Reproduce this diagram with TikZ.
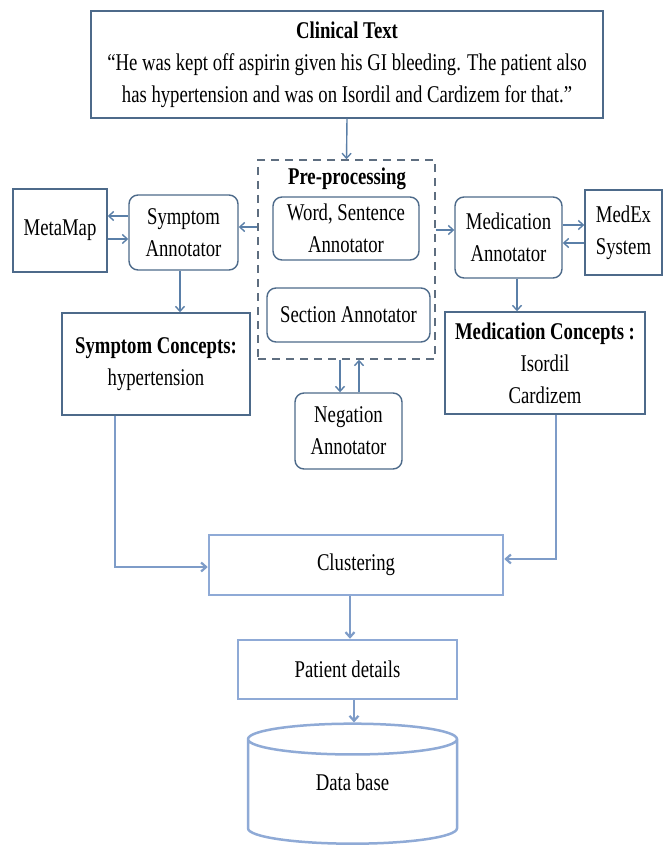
\documentclass[tikz,border=0pt]{standalone}
\usepackage{fontspec}
\setmainfont{Liberation Serif}[FakeStretch=0.78]
\usetikzlibrary{arrows.meta,shapes.geometric}
\definecolor{boxline}{HTML}{4D6A8A}
\definecolor{arrline}{HTML}{5A7FA8}
\definecolor{dashline}{HTML}{5E6E80}
\definecolor{lightline}{HTML}{8FAAD6}
\definecolor{midline}{HTML}{7E9CC8}
\begin{document}
\begin{tikzpicture}[x=1pt,y=-1pt,
  font=\fontsize{24}{32}\selectfont,
  box/.style={draw=boxline,line width=1.4pt,fill=white,inner sep=0pt,align=center},
  rbox/.style={box,rounded corners=9pt},
  lbox/.style={draw=lightline,line width=2.5pt,fill=white,inner sep=0pt,align=center},
  arr/.style={draw=arrline,line width=1.4pt,-{Straight Barb[length=5pt,width=9pt]}},
  larr/.style={draw=midline,line width=2.2pt,-{Straight Barb[length=5pt,width=9pt]}}]
\useasboundingbox (0,0) rectangle (667,853);
% input text
\node[box,minimum width=512,minimum height=107] (clin) at (347,64.5)
  {\textbf{Clinical Text}\\“He was kept off aspirin given his GI bleeding. The patient also\\has hypertension and was on Isordil and Cardizem for that.”};
% pre-processing group
\node[draw=dashline,line width=1.4pt,dash pattern=on 8pt off 6pt,minimum width=177,minimum height=199] (pre) at (346.5,259.5) {};
\node (pretitle) at (347,179) {\textbf{Pre-processing}};
\node[rbox,minimum width=146,minimum height=63] (word) at (346,228.5) {Word, Sentence\\Annotator};
\node[rbox,minimum width=163,minimum height=54] (sect) at (348.5,315) {Section Annotator};
\node[rbox,minimum width=107,minimum height=76] (neg) at (348.5,431) {Negation\\Annotator};
% symptom side
\node[box,minimum width=94,minimum height=83] (meta) at (60,230.5) {MetaMap};
\node[rbox,minimum width=109,minimum height=75] (symann) at (183.5,232.5) {Symptom\\Annotator};
\node[box,minimum width=188,minimum height=102] (symcon) at (156,364) {\textbf{Symptom Concepts:}\\hypertension};
% medication side
\node[rbox,minimum width=107,minimum height=81] (medann) at (508.5,237.5) {Medication\\Annotator};
\node[box,minimum width=77,minimum height=85] (medex) at (623.5,232.5) {MedEx\\System};
\node[box,minimum width=200,minimum height=102] (medcon) at (545,363) {\textbf{Medication Concepts :}\\Isordil\\Cardizem};
% output
\node[lbox,minimum width=294,minimum height=60] (clus) at (356,565) {Clustering};
\node[lbox,minimum width=219,minimum height=59] (pat) at (347.5,669.5) {Patient details};
\node[cylinder,shape border rotate=90,aspect=0.42,draw=lightline,line width=2.5pt,fill=white,
  inner sep=0pt,minimum width=209,minimum height=120,text height=16pt,text depth=20pt] (db) at (352.5,792) {Data base};
% connectors
\draw[arr] (clin.south) -- (pre.north);
\draw[arr] (pre.west |- 0,227) -- (symann.east |- 0,227);
\draw[arr] (pre.east |- 0,230) -- (medann.west |- 0,230);
\draw[arr] (symann.west |- 0,216) -- (meta.east |- 0,216);
\draw[arr] (meta.east |- 0,239) -- (symann.west |- 0,239);
\draw[arr] (medann.east |- 0,225) -- (medex.west |- 0,225);
\draw[arr] (medex.west |- 0,243) -- (medann.east |- 0,243);
\draw[arr] (symann.south -| 180,0) -- (symcon.north -| 180,0);
\draw[arr] (medann.south -| 517,0) -- (medcon.north -| 517,0);
\draw[arr] (pre.south -| 340,0) -- (neg.north -| 340,0);
\draw[arr] (neg.north -| 359,0) -- (pre.south -| 359,0);
\draw[larr] (symcon.south -| 115,0) |- (clus.west |- 0,567);
\draw[larr] (medcon.south -| 556,0) |- (clus.east |- 0,559);
\draw[larr] (clus.south -| 350,0) -- (pat.north -| 350,0);
\draw[larr] (pat.south -| 354,0) -- (db.north -| 354,0);
\end{tikzpicture}
\end{document}
